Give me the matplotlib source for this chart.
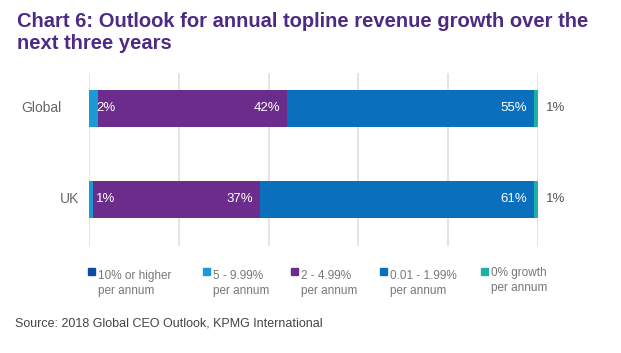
import matplotlib
matplotlib.use("Agg")
import numpy as np
import matplotlib.pyplot as plt
from matplotlib.patches import Rectangle

# data
regions = ["Global", "UK"]
series_names = ["10% or higher\nper annum", "5 - 9.99%\nper annum", "2 - 4.99%\nper annum",
                "0.01 - 1.99%\nper annum", "0% growth\nper annum"]
values = {
    "10% or higher": [0, 0],
    "5 - 9.99%": [2, 1],
    "2 - 4.99%": [42, 37],
    "0.01 - 1.99%": [55, 61],
    "0% growth": [1, 1],
}
colors = ["#0c4ea2", "#1a9ad6", "#6b2c8c", "#0a6fbd", "#1fb1a4"]

title = "Chart 6: Outlook for annual topline revenue growth over the\nnext three years"
source = "Source: 2018 Global CEO Outlook, KPMG International"

plt.rcParams["font.family"] = ["Liberation Sans", "DejaVu Sans"]

W, H = 621, 353
fig = plt.figure(figsize=(W / 100, H / 100), dpi=100)
ax = fig.add_axes([89 / W, (H - 246) / H, (538 - 89) / W, (246 - 73) / H])

y = np.arange(len(regions))
left = np.zeros(len(regions))
keys = list(values.keys())
for i, key in enumerate(keys):
    vals = np.array(values[key], dtype=float)
    ax.barh(y, vals, left=left, height=0.41, color=colors[i], zorder=3)
    for j, v in enumerate(vals):
        if v <= 0:
            continue
        if i == 1:
            ax.annotate(f"{v:.0f}%", (left[j], y[j]), xytext=(5, 0), textcoords="offset points",
                        ha="left", va="center", color="white", fontsize=9.5, zorder=4)
        elif i == len(keys) - 1:
            ax.annotate(f"{v:.0f}%", (left[j] + v, y[j]), xytext=(5.5, 0), textcoords="offset points",
                        ha="left", va="center", color="#555555", fontsize=9.5, zorder=4)
        else:
            ax.annotate(f"{v:.0f}%", (left[j] + v, y[j]), xytext=(-4.5, 0), textcoords="offset points",
                        ha="right", va="center", color="white", fontsize=9.5, zorder=4)
    left += vals

ax.set_xlim(0, 100)
ax.set_ylim(1.511, -0.39)
ax.set_xticks(np.arange(0, 101, 20))
ax.grid(axis="x", color="#dcdcdc", linewidth=1.1, zorder=0)
ax.tick_params(left=False, bottom=False, labelbottom=False, labelleft=False)
for s in ax.spines.values():
    s.set_visible(False)

# category labels
label_off = [-19.5, -7.2]
for j, r in enumerate(regions):
    ax.annotate(r, (0, y[j]), xytext=(label_off[j], 0), textcoords="offset points",
                ha="right", va="center", color="#666666", fontsize=10)

# legend
sq_x = [88, 203, 291, 380, 481]
for i, name in enumerate(series_names):
    x0 = sq_x[i]
    fig.patches.append(Rectangle((x0 / W, (H - 275) / H), 7 / W, 7 / H, transform=fig.transFigure,
                                 color=colors[i], figure=fig))
    top = 267 if i == len(series_names) - 1 else 270
    fig.text((x0 + 10) / W, (H - top) / H, name, ha="left", va="top", fontsize=8.5,
             color="#777777", linespacing=1.35)

fig.text(17 / W, (H - 12) / H, title, ha="left", va="top", fontsize=14.5, fontweight="bold",
         color="#4d2a86", linespacing=1.2)
fig.text(15 / W, (H - 324) / H, source, ha="left", va="center", fontsize=9, color="#444444")

fig.savefig("out.png", dpi=100)
